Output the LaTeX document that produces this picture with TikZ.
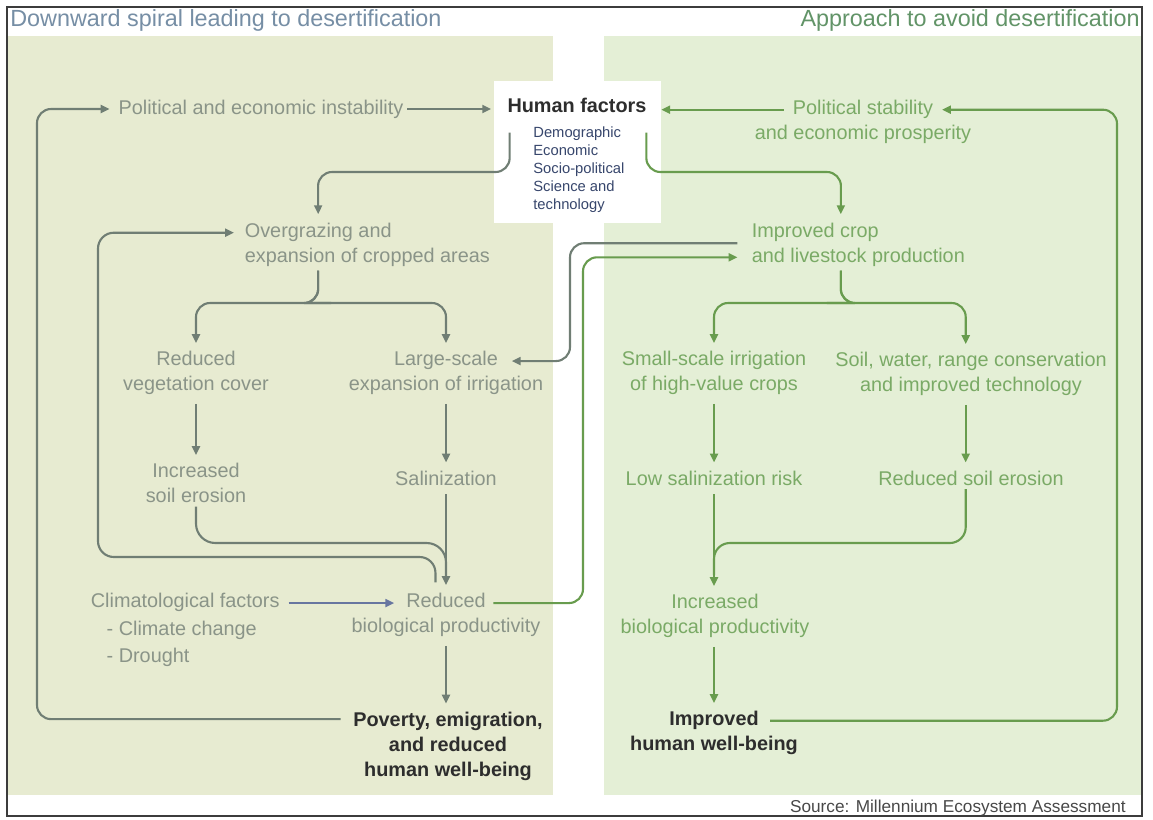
\documentclass[tikz,border=0pt]{standalone}
\usepackage{fontspec}
\setmainfont{Liberation Sans}
\usetikzlibrary{arrows.meta,calc}
\definecolor{lgray}{RGB}{138,148,136}
\definecolor{larrow}{RGB}{112,126,116}
\definecolor{gtext}{RGB}{122,170,102}
\definecolor{garrow}{RGB}{104,156,78}
\definecolor{darktxt}{RGB}{45,45,45}
\definecolor{navytxt}{RGB}{55,70,108}
\definecolor{bluearrow}{RGB}{104,118,160}
\definecolor{lpanel}{RGB}{231,235,209}
\definecolor{rpanel}{RGB}{228,239,214}
\definecolor{ltitle}{RGB}{118,142,165}
\definecolor{rtitle}{RGB}{98,148,104}
\definecolor{bordercol}{RGB}{60,60,60}
\definecolor{srccol}{RGB}{72,72,72}
\begin{document}
\begin{tikzpicture}[x=0.02cm,y=-0.02cm,
  txt/.style={font=\fontsize{11.3}{14.2}\selectfont, align=center, inner sep=2pt},
  ltxt/.style={txt, text=lgray},
  gtxt/.style={txt, text=gtext},
  btxt/.style={txt, font=\fontsize{11.3}{14.2}\selectfont\bfseries, text=darktxt},
  arrowtip/.style={-{Triangle[length=5pt,width=4.5pt]}},
  larr/.style={draw=larrow, line width=1.2pt, arrowtip},
  lline/.style={draw=larrow, line width=1.2pt},
  garr/.style={draw=garrow, line width=1.2pt, arrowtip},
  gline/.style={draw=garrow, line width=1.2pt},
  barr/.style={draw=bluearrow, line width=1.2pt, arrowtip},
  vgap/.style={shorten <=3pt, shorten >=2.5pt}
]
\useasboundingbox (0,0) rectangle (1153,819);
\fill[white] (0,0) rectangle (1153,819);
\fill[lpanel] (8,36) rectangle (553,795);
\fill[rpanel] (604,36) rectangle (1141,795);
\draw[bordercol, line width=1.2pt] (7,7) rectangle (1142,816);

% titles
\node[anchor=west, inner sep=0, font=\fontsize{13.3}{16}\selectfont, text=ltitle] (t1) at (10,20) {Downward spiral leading to desertification};
\node[anchor=east, inner sep=0, font=\fontsize{13.3}{16}\selectfont, text=rtitle] (t2) at (1140,20) {Approach to avoid desertification};

% human factors box
\node[fill=white, minimum width=3.34cm, minimum height=2.84cm, inner sep=0] (hf) at (577.5,152) {};
\node[btxt] (hft) at (577,105) {Human factors};
\node[anchor=west, align=left, inner sep=0, font=\fontsize{8.4}{10.3}\selectfont, text=navytxt] (hfl) at (533,169.5) {Demographic\\Economic\\Socio-political\\Science and\\technology};

% left nodes
\node[ltxt] (pei) at (261,109) {Political and economic instability};
\node[ltxt, align=left, anchor=west] (ogz) at (241,245) {Overgrazing and\\expansion of cropped areas};
\node[ltxt] (rvc) at (196,373) {Reduced\\vegetation cover};
\node[ltxt] (lsi) at (446,373) {Large-scale\\expansion of irrigation};
\node[ltxt] (ise) at (196,483) {Increased\\soil erosion};
\node[ltxt] (sal) at (446,478) {Salinization};
\node[ltxt] (rbp) at (446,615) {Reduced\\biological productivity};
\node[ltxt, align=left, anchor=west, font=\fontsize{11.3}{15.6}\selectfont] (clf) at (87,630) {Climatological factors\\\hspace*{9pt}- Climate change\\\hspace*{9pt}- Drought};
\node[btxt] (pov) at (448,746) {Poverty, emigration,\\and reduced\\human well-being};

% right nodes
\node[gtxt] (pst) at (863,122) {Political stability\\and economic prosperity};
\node[gtxt, align=left, anchor=west] (icp) at (748,245) {Improved crop\\and livestock production};
\node[gtxt] (ssi) at (714,373) {Small-scale irrigation\\of high-value crops};
\node[gtxt] (swr) at (971,374) {Soil, water, range conservation\\and improved technology};
\node[gtxt] (lsr) at (714,478) {Low salinization risk};
\node[gtxt] (rse) at (971,478) {Reduced soil erosion};
\node[gtxt] (ibp) at (715,616) {Increased\\biological productivity};
\node[btxt] (imp) at (714,733) {Improved\\human well-being};

\node[anchor=east, inner sep=0, font=\fontsize{9.8}{12}\selectfont, text=srccol] (src) at (1126,808) {Source: Millennium Ecosystem Assessment};

% helper coordinates
\coordinate (bL) at (317,303);
\coordinate (bR) at (841,303);
\coordinate (mergeL) at (446,578);
\coordinate (mergeR) at (714,575);
\coordinate (rbpIn) at ([xshift=-29.5pt,yshift=6.8pt]rbp.center);
\coordinate (rbpOut) at ([xshift=27pt,yshift=6.8pt]rbp.center);
\coordinate (lsiIn) at ([xshift=37.5pt,yshift=6.8pt]lsi.center);
\coordinate (pstL) at ([xshift=-45pt,yshift=7pt]pst.center);
\coordinate (pstR) at ([xshift=45pt,yshift=7pt]pst.center);
\coordinate (swrS) at ([xshift=-3pt]swr.south);

% ---- left connectors
\draw[larr, shorten >=1.5pt] (pei.east) -- (pei.east -| hf.west);
\draw[larr, rounded corners=8pt, shorten >=3pt] ([xshift=-5pt,yshift=15.3pt]pov.west) -| (37,400) |- (pei.west);
\draw[larr, rounded corners=9pt, shorten >=4pt] ([xshift=-6pt,yshift=4pt]rbp.north) |- (98,557) |- ([yshift=7pt]ogz.west);
\draw[lline, rounded corners=11pt] (ise.south) |- (446,543) -- (mergeL);
\draw[larr, rounded corners=8pt] ($(hf.north west)+(16,52)$) |- (318,172) -- ([xshift=-28pt,yshift=3pt]ogz.north);
\draw[larr, rounded corners=8pt, shorten >=2.5pt] ([xshift=-28pt]ogz.south) |- (bL) -| (rvc.north);
\draw[larr, rounded corners=8pt, shorten >=2.5pt] ([xshift=-28pt]ogz.south) |- (bL) -| (lsi.north);
\draw[larr, vgap] (rvc.south) -- (rvc.south |- ise.north);
\draw[larr, vgap] (lsi.south) -- (lsi.south |- sal.north);
\draw[larr, vgap] (sal.south) -- (sal.south |- rbp.north);
\draw[larr, vgap] (rbp.south) -- (rbp.south |- pov.north);
\draw[barr, shorten <=3pt] (rbpIn -| clf.east) -- (rbpIn);
\draw[larr, rounded corners=8pt] ([xshift=-6pt,yshift=1pt]icp.west) -| (570,300) |- (lsiIn);

% ---- right connectors
\draw[garr] (pstL) -- (pstL -| hf.east);
\draw[garr, rounded corners=8pt] ([xshift=32pt,yshift=7pt]imp.center) -| (1117,400) |- (pstR);
\draw[garr, rounded corners=8pt] ($(hf.north east)+(-15,52)$) |- (841,172) -- ([xshift=-10pt,yshift=3pt]icp.north);
\draw[garr, rounded corners=8pt] (rbpOut) -| (583,400) |- ([xshift=-6pt,yshift=-7pt]icp.west);
\draw[garr, rounded corners=8pt, shorten >=2.5pt] ([xshift=-10pt]icp.south) |- (bR) -| (ssi.north);
\draw[garr, rounded corners=8pt, shorten >=2.5pt] ([xshift=-10pt]icp.south) |- (bR) -| (swrS |- swr.north);
\draw[garr, vgap] (ssi.south) -- (ssi.south |- lsr.north);
\draw[garr, vgap] (swrS) -- (swrS |- rse.north);
\draw[garr, vgap] (lsr.south) -- (lsr.south |- ibp.north);
\draw[garr, vgap] (lsr.south |- ibp.south) -- (lsr.south |- imp.north);
\draw[gline, rounded corners=9pt] (swrS |- rse.south) |- (714,543) -- (mergeR);
\end{tikzpicture}
\end{document}
